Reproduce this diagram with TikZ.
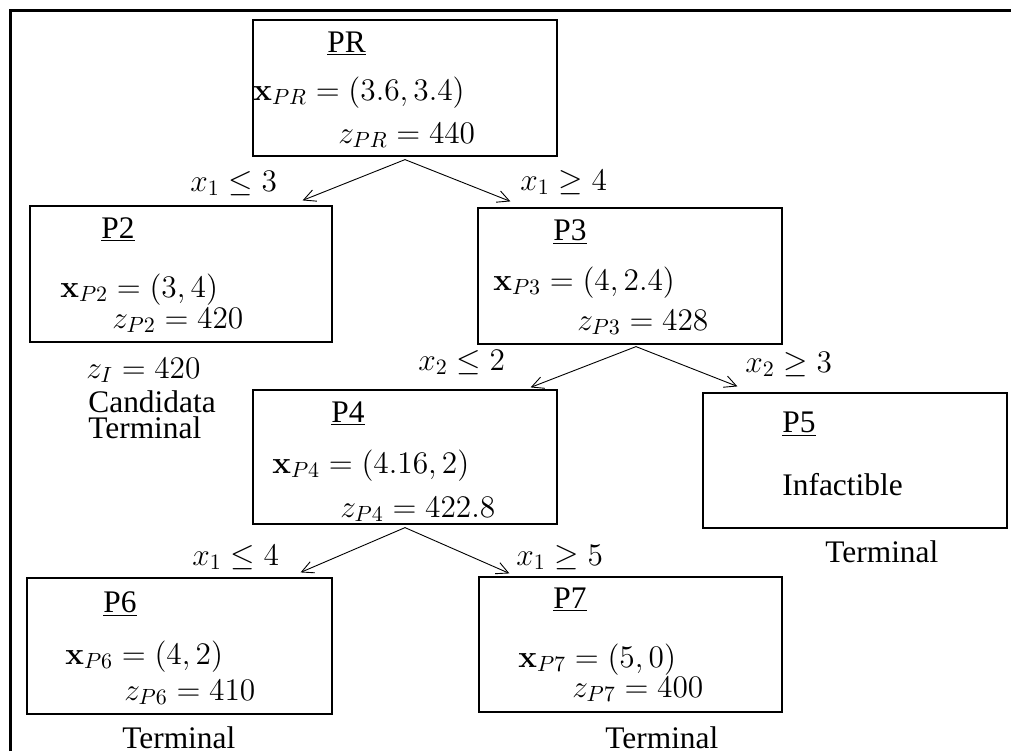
\RequirePackage{fix-cm}
\documentclass[tikz,border=0pt]{standalone}
\usepackage[no-math]{fontspec}
\setmainfont{Liberation Serif}
\usetikzlibrary{fit,arrows.meta}
\begin{document}
\begin{tikzpicture}[x=0.5pt,y=-0.5pt,
 box/.style={draw, line width=0.6pt, inner sep=0pt},
 txt/.style={anchor=base west, inner sep=0pt, font=\fontsize{15.7}{18.5}\selectfont},
 edge/.style={line width=0.45pt, -{Straight Barb[length=6pt,width=6pt]}},
 frame/.style={line width=1.5pt, line join=miter}]
\useasboundingbox (0,0) rectangle (1011,751);
\draw[frame] (10,751) -- (10,10) -- (1011,10);
% boxes
\node[box, fit={(253,20)(557,156)}] (PR) {};
\node[box, fit={(30,206)(332,342)}] (P2) {};
\node[box, fit={(478,208)(782,344)}] (P3) {};
\node[box, fit={(253,390)(557,524)}] (P4) {};
\node[box, fit={(703,393)(1007,528)}] (P5) {};
\node[box, fit={(27,578)(332,714)}] (P6) {};
\node[box, fit={(479,577)(782,712)}] (P7) {};
% PR
\node[txt] (tPR) at (327,52) {\underline{PR}};
\node[txt] (xPR) at (253,100) {$\mathbf{x}_{PR}=(3.6,3.4)$};
\node[txt] (zPR) at (338,143) {$z_{PR}=440$};
% P2
\node[txt] (tP2) at (101,238) {\underline{P2}};
\node[txt] (xP2) at (60,297) {$\mathbf{x}_{P2}=(3,4)$};
\node[txt] (zP2) at (112,328) {$z_{P2}=420$};
\node[txt] (zI) at (86,378) {$z_{I}=420$};
\node[txt] (cand) at (88,412) {Candidata};
\node[txt] (term2) at (88,438) {Terminal};
% P3
\node[txt] (tP3) at (553,240) {\underline{P3}};
\node[txt] (xP3) at (493,290) {$\mathbf{x}_{P3}=(4,2.4)$};
\node[txt] (zP3) at (577,330) {$z_{P3}=428$};
% P4
\node[txt] (tP4) at (331,422) {\underline{P4}};
\node[txt] (xP4) at (272,473) {$\mathbf{x}_{P4}=(4.16,2)$};
\node[txt] (zP4) at (340,517) {$z_{P4}=422.8$};
% P5
\node[txt] (tP5) at (782,432) {\underline{P5}};
\node[txt] (inf) at (782,495) {Infactible};
\node[txt] (term5) at (825,562) {Terminal};
% P6
\node[txt] (tP6) at (103,612) {\underline{P6}};
\node[txt] (xP6) at (65,664) {$\mathbf{x}_{P6}=(4,2)$};
\node[txt] (zP6) at (124,700) {$z_{P6}=410$};
\node[txt] (term6) at (122,748) {Terminal};
% P7
\node[txt] (tP7) at (553,608) {\underline{P7}};
\node[txt] (xP7) at (518,667) {$\mathbf{x}_{P7}=(5,0)$};
\node[txt] (zP7) at (572,697) {$z_{P7}=400$};
\node[txt] (term7) at (605,748) {Terminal};
% branch labels
\node[txt] (b1) at (190,191) {$x_1\leq 3$};
\node[txt] (b2) at (520,190) {$x_1\geq 4$};
\node[txt] (b3) at (418,370) {$x_2\leq 2$};
\node[txt] (b4) at (745,372) {$x_2\geq 3$};
\node[txt] (b5) at (192,565) {$x_1\leq 4$};
\node[txt] (b6) at (516,565) {$x_1\geq 5$};
% connectors
\draw[edge] ([yshift=-1.5pt]PR.south) -- ([xshift=-15pt,yshift=2.5pt]P2.north east);
\draw[edge] ([yshift=-1.5pt]PR.south) -- ([xshift=16.5pt,yshift=3pt]P3.north west);
\draw[edge] ([xshift=3pt,yshift=-1pt]P3.south) -- ([xshift=-13.5pt,yshift=1pt]P4.north east);
\draw[edge] ([xshift=3pt,yshift=-1pt]P3.south) -- ([xshift=17.5pt,yshift=3pt]P5.north west);
\draw[edge] ([yshift=-1.5pt]P4.south) -- ([xshift=-16pt,yshift=2.5pt]P6.north east);
\draw[edge] ([yshift=-1.5pt]P4.south) -- ([xshift=15.5pt,yshift=1.5pt]P7.north west);
\end{tikzpicture}
\end{document}
